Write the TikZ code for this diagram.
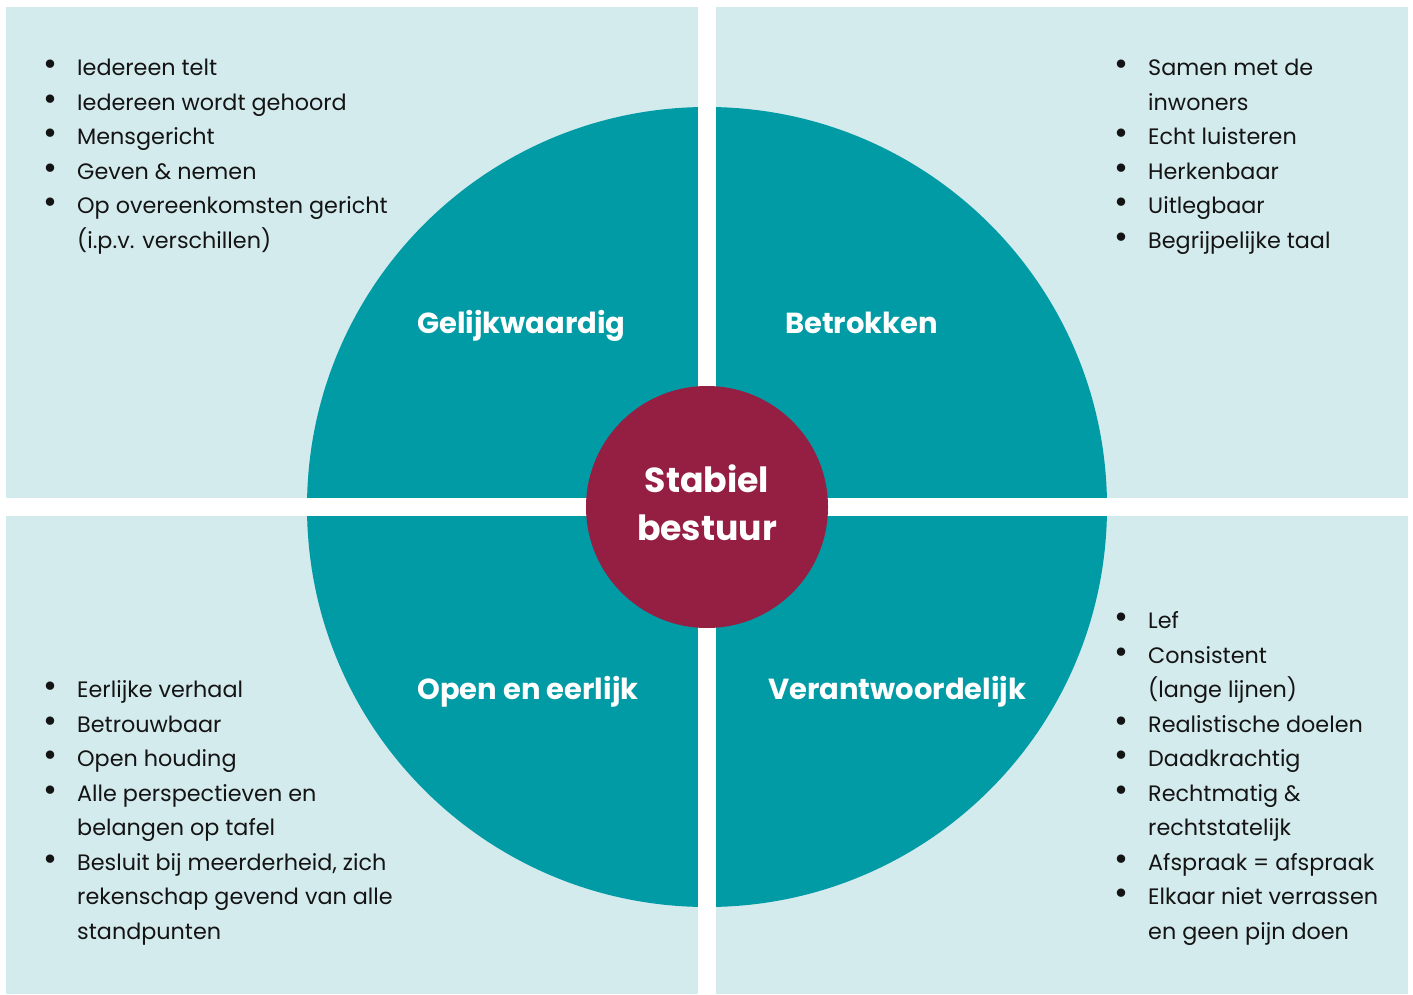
\documentclass[tikz,border=0pt]{standalone}
\usepackage{fontspec}
\setmainfont{Poppins}
\definecolor{lightbg}{RGB}{212,235,238}
\definecolor{tealc}{RGB}{0,155,165}
\definecolor{crimson}{RGB}{148,31,66}
\definecolor{txt}{RGB}{20,20,20}
\newcommand\bul{{\fontsize{34}{34}\selectfont\textbullet}}
\newcommand\itm[1]{\hbox{\llap{\bul\hskip 20pt}#1}}
\newcommand\cnt[1]{\hbox{#1}}
\newcommand\lst[1]{\vtop{\baselineskip=34.5pt\lineskiplimit=-100pt #1}}
\tikzset{
  bg/.style={fill=lightbg, draw=none},
  head/.style={text=white, font=\fontsize{29}{34}\selectfont\bfseries, inner sep=0pt, anchor=base west},
  listtext/.style={text=txt, font=\fontsize{22.3}{34.5}\selectfont, inner sep=0pt, anchor=base west},
  gap/.style={fill=white, draw=none},
}
\begin{document}
\begin{tikzpicture}[x=1pt,y=-1pt]
\fill[white] (0,0) rectangle (1413,995);
\useasboundingbox (0,0) rectangle (1413,995);
% quadrant backgrounds
\fill[bg] (6,7) rectangle (698,498);
\fill[bg] (716,7) rectangle (1408,498);
\fill[bg] (6,516) rectangle (698,994);
\fill[bg] (716,516) rectangle (1408,994);
% big circle
\node[circle, fill=tealc, minimum size=800pt, inner sep=0pt] (big) at (707,507) {};
% white gaps across the circle
\fill[gap] (698,100) rectangle (716,914);
\fill[gap] (300,498) rectangle (1114,516);
% centre circle
\node[circle, fill=crimson, minimum size=242pt, inner sep=0pt] (core) at (707,507) {};
\node[text=white, inner sep=0pt, anchor=base, font=\fontsize{34.7}{48}\selectfont\bfseries] (coretext) at (707,492.5)
  {\vtop{\baselineskip=48pt\lineskiplimit=-100pt\hbox to 0pt{\hss Stabiel\hss}\hbox to 0pt{\hss bestuur\hss}}};
% headings
\node[head] (h1) at (417,333) {Gelijkwaardig};
\node[head] (h2) at (785,333) {Betrokken};
\node[head] (h3) at (417,699) {Open en eerlijk};
\node[head] (h4) at (768,699) {Verantwoordelijk};
% lists
\node[listtext] (l1) at (77,76) {\lst{%
  \itm{Iedereen telt}
  \itm{Iedereen wordt gehoord}
  \itm{Mensgericht}
  \itm{Geven \& nemen}
  \itm{Op overeenkomsten gericht}
  \cnt{(i.p.v. verschillen)}}};
\node[listtext] (l2) at (1148,76) {\lst{%
  \itm{Samen met de}
  \cnt{inwoners}
  \itm{Echt luisteren}
  \itm{Herkenbaar}
  \itm{Uitlegbaar}
  \itm{Begrijpelijke taal}}};
\node[listtext] (l3) at (77,697.5) {\lst{%
  \itm{Eerlijke verhaal}
  \itm{Betrouwbaar}
  \itm{Open houding}
  \itm{Alle perspectieven en}
  \cnt{belangen op tafel}
  \itm{Besluit bij meerderheid, zich}
  \cnt{rekenschap gevend van alle}
  \cnt{standpunten}}};
\node[listtext] (l4) at (1148,628.5) {\lst{%
  \itm{Lef}
  \itm{Consistent}
  \cnt{(lange lijnen)}
  \itm{Realistische doelen}
  \itm{Daadkrachtig}
  \itm{Rechtmatig \&}
  \cnt{rechtstatelijk}
  \itm{Afspraak = afspraak}
  \itm{Elkaar niet verrassen}
  \cnt{en geen pijn doen}}};
\end{tikzpicture}
\end{document}
